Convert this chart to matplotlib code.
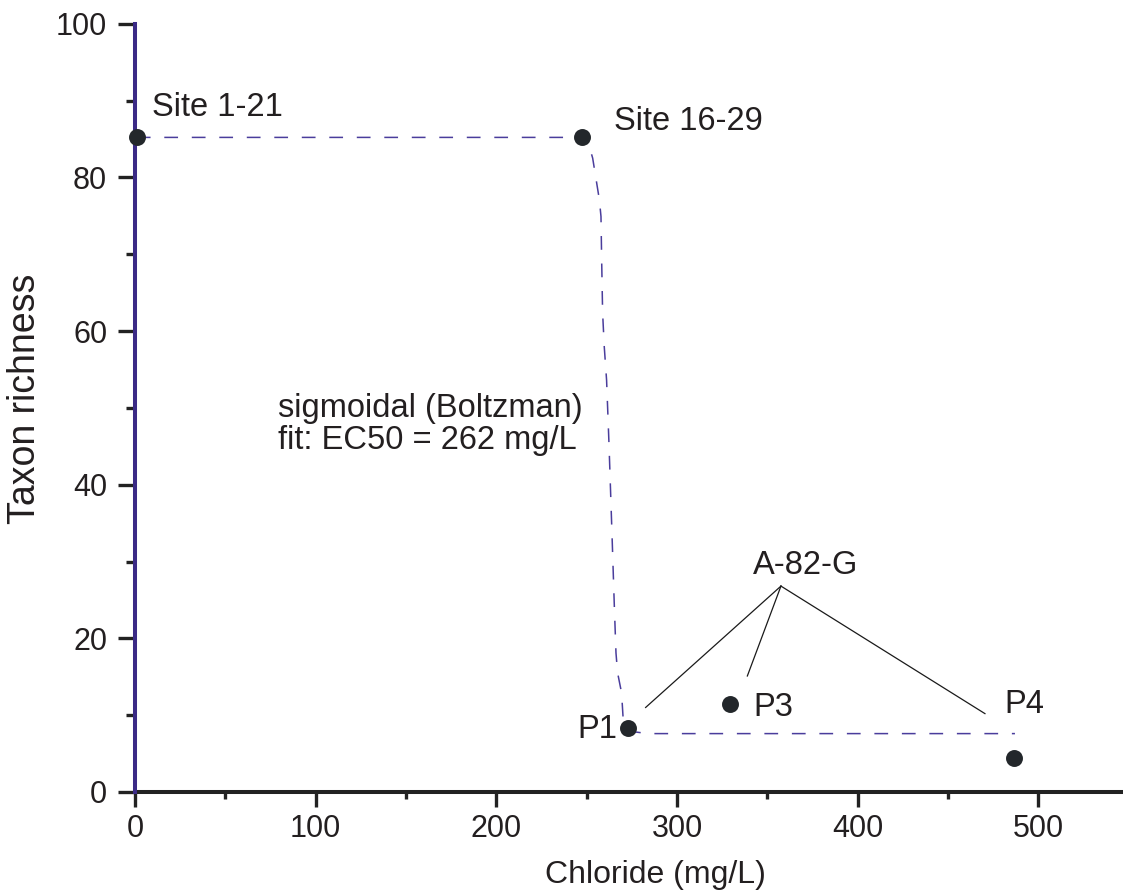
import matplotlib
matplotlib.use("Agg")
import matplotlib.pyplot as plt
from matplotlib.ticker import MultipleLocator

plt.rcParams['font.family'] = ['Liberation Sans', 'DejaVu Sans']

# measured sites (chloride mg/L, taxon richness)
site_names = ['Site 1-21', 'Site 16-29', 'P1', 'P3', 'P4']
chloride = [1.1, 247.4, 272.8, 329.3, 486.4]
richness = [85.2, 85.3, 8.3, 11.5, 4.4]

# sigmoidal (Boltzman) fit curve
fit_x = [1, 250, 253.3, 257.0, 257.9, 258.3, 258.8, 259.7, 261.0, 262.3,
         263.0, 264.1, 265.3, 266.2, 267.1, 269.3, 270.2, 273.9, 284, 487]
fit_y = [85.2, 85.2, 82.5, 77.1, 74.9, 68.9, 62.4, 58.0, 53.6, 45.5,
         40.6, 32.8, 24.1, 18.1, 15.5, 12.9, 9.4, 7.9, 7.6, 7.6]

# leader lines from the "A-82-G" label
leader_hub = (357.5, 26.8)
leader_ends = [(282.6, 11.0), (338.9, 15.1), (470.4, 10.2)]

# label positions (left edge, baseline)
label_pos = [(9.4, 88.0), (265.3, 86.2), (244.6, 7.0), (342.0, 9.9), (481.0, 10.3)]

txt_col = '#231f20'
axis_purple = '#3b2a86'
fit_col = '#4a3d9c'

fig = plt.figure(figsize=(11.23, 8.94), dpi=100)
ax = fig.add_axes([0.1202, 0.1141, 0.8798, 0.8594])

# fit curve
ax.plot(fit_x, fit_y, color=fit_col, lw=1.1, dashes=(9, 9), zorder=2)

# leaders
for ex, ey in leader_ends:
    ax.plot([leader_hub[0], ex], [leader_hub[1], ey], color='#1a1a1a', lw=0.9, zorder=2)

# points
ax.plot(chloride, richness, 'o', color='#23272b', ms=12.2, mec='none',
        clip_on=False, zorder=4)

for name, (lx, ly) in zip(site_names, label_pos):
    ax.text(lx, ly, name, fontsize=23.5, color=txt_col, ha='left', va='baseline')

ax.text(342.0, 28.4, 'A-82-G', fontsize=23.5, color=txt_col, ha='left', va='baseline')
ax.text(79.1, 48.8, 'sigmoidal (Boltzman)', fontsize=23.5, color=txt_col,
        ha='left', va='baseline')
ax.text(79.1, 44.7, 'fit: EC50 = 262 mg/L', fontsize=23.5, color=txt_col,
        ha='left', va='baseline')

ax.set_xlim(0, 546.8)
ax.set_ylim(0, 100)

for s in ['top', 'right']:
    ax.spines[s].set_visible(False)
ax.spines['left'].set_color(axis_purple)
ax.spines['left'].set_linewidth(2.9)
ax.spines['bottom'].set_color('#222222')
ax.spines['bottom'].set_linewidth(2.9)
ax.spines['left'].set_zorder(3)

ax.xaxis.set_major_locator(MultipleLocator(100))
ax.xaxis.set_minor_locator(MultipleLocator(50))
ax.yaxis.set_major_locator(MultipleLocator(20))
ax.yaxis.set_minor_locator(MultipleLocator(10))

ax.tick_params(axis='x', which='major', length=11, width=2.4, color='#222222',
               labelsize=22, labelcolor=txt_col, pad=4.5)
ax.tick_params(axis='x', which='minor', length=5, width=2.4, color='#222222')
ax.tick_params(axis='y', which='major', length=12, width=2.4, color='#222222',
               labelsize=22, labelcolor=txt_col, pad=8)
ax.tick_params(axis='y', which='minor', length=6.5, width=2.4, color='#222222')

ax.set_xlabel('Chloride (mg/L)', fontsize=23, color=txt_col)
ax.xaxis.label.set_va('baseline')
ax.xaxis.set_label_coords(0.5268, -0.1184)
ax.set_ylabel('Taxon richness', fontsize=27, color=txt_col)
ax.yaxis.label.set_va('baseline')
ax.yaxis.set_label_coords(-0.1012, 0.5122)

fig.savefig('out.png', dpi=100)
